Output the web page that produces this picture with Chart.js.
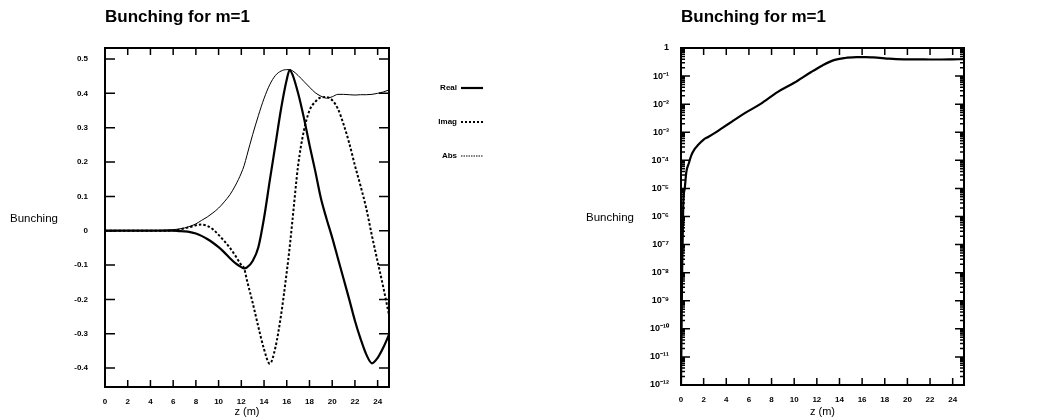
<!DOCTYPE html>
<html>
<head>
<meta charset="utf-8">
<script src="https://cdn.jsdelivr.net/npm/chart.js@4.4.1/dist/chart.umd.min.js"></script>
<style>
  body { margin: 0; background: #fff; }
  #wrap { position: relative; width: 1058px; height: 419px; }
  canvas { position: absolute; top: 0; }
  #linChart { left: 0; }
  #logChart { left: 529px; }
</style>
</head>
<body>
<div id="wrap">
  <canvas id="linChart" width="529" height="419"></canvas>
  <canvas id="logChart" width="529" height="419"></canvas>
</div>
<script>
// z positions (m) for the linear plot
const zLin = [0, 1, 2, 3, 4, 5, 6, 6.5, 7, 7.5, 8, 8.5, 9, 9.5, 10, 10.5, 11, 11.5, 12, 12.25,
  12.5, 13, 13.5, 14, 14.5, 15, 15.5, 16, 16.25, 16.5, 17, 17.5, 18, 18.5, 19, 19.5, 20,
  20.5, 21, 21.5, 22, 22.5, 23, 23.5, 24, 24.5, 25];

const realPart = [0, 0, 0, 0, 0, 0, 0,
  -0.001, -0.002, -0.004, -0.008, -0.015, -0.024, -0.035, -0.048, -0.063, -0.08, -0.095, -0.106,
  -0.11,
  -0.107, -0.088, -0.048, 0.037, 0.145, 0.25, 0.355, 0.44,
  0.468,
  0.455, 0.40, 0.33, 0.25, 0.175, 0.095, 0.035, -0.02, -0.08, -0.14, -0.2, -0.262, -0.315, -0.36, -0.386, -0.37, -0.34, -0.303];

const imagPart = [0, 0, 0, 0, 0, 0, 0.001,
  0.003, 0.007, 0.011, 0.016, 0.018, 0.014, 0.004, -0.012, -0.03, -0.05, -0.074, -0.1,
  -0.11,
  -0.145, -0.21, -0.28, -0.345, -0.387, -0.34, -0.245, -0.12,
  -0.05,
  0.03, 0.19, 0.29, 0.35, 0.375, 0.388, 0.389, 0.38, 0.355, 0.31, 0.255, 0.19, 0.13, 0.065, -0.015, -0.09, -0.165, -0.245];

const absLin = [0, 0, 0, 0, 0, 0.001, 0.003,
  0.005, 0.008, 0.013, 0.02, 0.03, 0.04, 0.052, 0.066, 0.084, 0.105, 0.133, 0.168,
  0.19,
  0.22, 0.28, 0.335, 0.385, 0.425, 0.452, 0.465, 0.469,
  0.469,
  0.466, 0.452, 0.435, 0.418, 0.402, 0.392, 0.386, 0.39, 0.397, 0.397, 0.396, 0.395, 0.396, 0.396, 0.397, 0.4, 0.404, 0.41];

// log plot (abs value)
const zLog = [0, 0.05, 0.1, 0.2, 0.33, 0.47, 0.7, 0.91, 1.2, 1.5, 2, 2.4, 3, 3.56, 4.5, 5.6, 7,
  8.56, 10, 11.5, 12.5, 13.5, 14.5, 15.5, 16.3, 17, 18, 19, 20, 21, 22, 23, 24, 25];
const absLog = [1e-12, 1e-10, 1e-8, 3e-6, 1e-5, 3.8e-5, 8e-5, 1.5e-4, 2.5e-4, 3.5e-4, 5.5e-4, 6.8e-4,
  9.5e-4, 1.35e-3, 2.4e-3, 4.7e-3, 1.0e-2, 2.75e-2, 5.8e-2, 0.14, 0.24, 0.37, 0.44, 0.47, 0.475,
  0.46, 0.43, 0.40, 0.395, 0.395, 0.39, 0.39, 0.395, 0.40];

// tick labels
const xTickValues = [0, 2, 4, 6, 8, 10, 12, 14, 16, 18, 20, 22, 24];
const yTickValues = [-0.4, -0.3, -0.2, -0.1, 0, 0.1, 0.2, 0.3, 0.4, 0.5];
const logExponents = [-12, -11, -10, -9, -8, -7, -6, -5, -4, -3, -2, -1, 0];

const FONT = "'Liberation Sans', Arial, sans-serif";
Chart.defaults.font.family = FONT;
Chart.defaults.color = '#000';

const tickFont = { family: FONT, size: 8, weight: 'bold' };
const titleFont = { family: FONT, size: 17, weight: 'bold' };

const SUP = { '-': '\u207B', '0': '\u2070', '1': '\u00B9', '2': '\u00B2', '3': '\u00B3', '4': '\u2074',
  '5': '\u2075', '6': '\u2076', '7': '\u2077', '8': '\u2078', '9': '\u2079' };

function toPoints(xs, ys) {
  return xs.map((x, i) => ({ x: x, y: ys[i] }));
}

// frame, inward tick marks and horizontal y title
const framePlugin = {
  id: 'frame',
  afterDatasetsDraw(chart, args, opts) {
    const { ctx, chartArea: a, scales } = chart;
    ctx.save();
    ctx.strokeStyle = '#000';
    ctx.lineWidth = 1.5;
    ctx.beginPath();
    scales.x.ticks.forEach(t => {
      const px = scales.x.getPixelForValue(t.value);
      ctx.moveTo(px, a.bottom); ctx.lineTo(px, a.bottom - opts.xTick);
      ctx.moveTo(px, a.top); ctx.lineTo(px, a.top + opts.xTick);
    });
    scales.y.ticks.forEach(t => {
      const py = scales.y.getPixelForValue(t.value);
      const len = t.major === false ? opts.minorTick : opts.yTick;
      ctx.moveTo(a.left, py); ctx.lineTo(a.left + len, py);
      ctx.moveTo(a.right, py); ctx.lineTo(a.right - len, py);
    });
    ctx.stroke();
    ctx.lineWidth = 2;
    ctx.strokeRect(a.left, a.top, a.width, a.height);
    ctx.fillStyle = '#000';
    ctx.font = '11.5px ' + FONT;
    ctx.textAlign = 'left';
    ctx.textBaseline = 'middle';
    ctx.fillText(opts.yTitle, opts.yTitleX, (a.top + a.bottom) / 2 + 1);
    ctx.restore();
  }
};

function xScale(height) {
  return {
    type: 'linear', min: 0, max: 25,
    afterBuildTicks: s => { s.ticks = xTickValues.map(v => ({ value: v })); },
    grid: { display: false, drawTicks: false },
    border: { display: false },
    ticks: { font: tickFont, padding: 10, autoSkip: false, maxRotation: 0, callback: v => String(v) },
    title: { display: true, text: 'z (m)', font: { family: FONT, size: 11 }, padding: { top: 0, bottom: 0 } },
    afterFit: s => { s.height = height; }
  };
}

function chartTitle() {
  return {
    display: true, text: 'Bunching for m=1', align: 'start', fullSize: false,
    font: titleFont, color: '#000', padding: { top: 7.5, bottom: 20.1 }
  };
}

function initLinearChart() {
  const ctx = document.getElementById('linChart').getContext('2d');
  new Chart(ctx, {
    type: 'line',
    data: {
      datasets: [
        { label: 'Real', data: toPoints(zLin, realPart), borderColor: '#000', borderWidth: 2.2 },
        { label: 'Imag', data: toPoints(zLin, imagPart), borderColor: '#000', borderWidth: 2, borderDash: [2.5, 2] },
        { label: 'Abs', data: toPoints(zLin, absLin), borderColor: '#000', borderWidth: 1 }
      ]
    },
    options: {
      responsive: false,
      animation: false,
      devicePixelRatio: 1,
      layout: { padding: { left: 0, top: 0, right: 20, bottom: 0 } },
      elements: {
        point: { radius: 0 },
        line: { cubicInterpolationMode: 'monotone', fill: false }
      },
      plugins: {
        title: chartTitle(),
        tooltip: { enabled: false },
        legend: {
          position: 'right', align: 'start', fullSize: false, rtl: true, maxWidth: 80,
          title: { display: true, text: '', padding: 0, font: { size: 10, lineHeight: 1 } },
          labels: {
            usePointStyle: true, pointStyle: 'line', pointStyleWidth: 22, padding: 26,
            color: '#000', font: { family: FONT, size: 8, weight: 'bold' },
            generateLabels(chart) {
              const items = Chart.defaults.plugins.legend.labels.generateLabels(chart);
              items.forEach(it => {
                if (it.text === 'Abs') { it.lineDash = [1.5, 1]; it.lineWidth = 1; }
                if (it.text === 'Imag') { it.lineDash = [2, 2]; }
              });
              return items;
            }
          }
        },
        frame: { xTick: 7, yTick: 10, minorTick: 4, yTitle: 'Bunching', yTitleX: 10 }
      },
      scales: {
        x: xScale(32),
        y: {
          type: 'linear', min: -0.455, max: 0.532,
          afterBuildTicks: s => { s.ticks = yTickValues.map(v => ({ value: v })); },
          grid: { display: false, drawTicks: false },
          border: { display: false },
          ticks: { font: tickFont, padding: 17, autoSkip: false,
            callback: v => (Math.abs(v) < 1e-9 ? '0' : v.toFixed(1)) },
          afterFit: s => { s.width = 105; }
        },
        y2: {
          type: 'linear', position: 'right', display: true,
          grid: { display: false, drawTicks: false },
          border: { display: false },
          ticks: { display: false },
          afterFit: s => { s.width = 40; }
        }
      }
    },
    plugins: [framePlugin]
  });
}

function logTicks() {
  const ticks = [];
  logExponents.forEach(e => {
    ticks.push({ value: Math.pow(10, e), major: true });
    if (e < 0) {
      for (let m = 2; m <= 9; m++) ticks.push({ value: m * Math.pow(10, e), major: false });
    }
  });
  return ticks;
}

function logLabel(v) {
  const e = Math.round(Math.log10(v));
  if (Math.abs(v / Math.pow(10, e) - 1) > 1e-6) return '';
  if (e === 0) return '1';
  return '10' + String(e).split('').map(c => SUP[c]).join('');
}

function initLogChart() {
  const ctx = document.getElementById('logChart').getContext('2d');
  new Chart(ctx, {
    type: 'line',
    data: {
      datasets: [
        { label: 'Abs', data: toPoints(zLog, absLog), borderColor: '#000', borderWidth: 2.2 }
      ]
    },
    options: {
      responsive: false,
      animation: false,
      devicePixelRatio: 1,
      layout: { padding: { left: 0, top: 0, right: 94, bottom: 0 } },
      elements: {
        point: { radius: 0 },
        line: { cubicInterpolationMode: 'monotone', fill: false }
      },
      plugins: {
        title: chartTitle(),
        tooltip: { enabled: false },
        legend: { display: false },
        frame: { xTick: 7, yTick: 9, minorTick: 4, yTitle: 'Bunching', yTitleX: 57 }
      },
      scales: {
        x: xScale(34),
        y: {
          type: 'logarithmic', min: 1e-12, max: 1,
          afterBuildTicks: s => { s.ticks = logTicks(); },
          grid: { display: false, drawTicks: false },
          border: { display: false },
          ticks: { font: { family: FONT, size: 9, weight: 'bold' }, padding: 12, autoSkip: false, callback: logLabel },
          afterFit: s => { s.width = 152; }
        }
      }
    },
    plugins: [framePlugin]
  });
}

document.addEventListener('DOMContentLoaded', function() {
  initLinearChart();
  initLogChart();
});
</script>
</body>
</html>
